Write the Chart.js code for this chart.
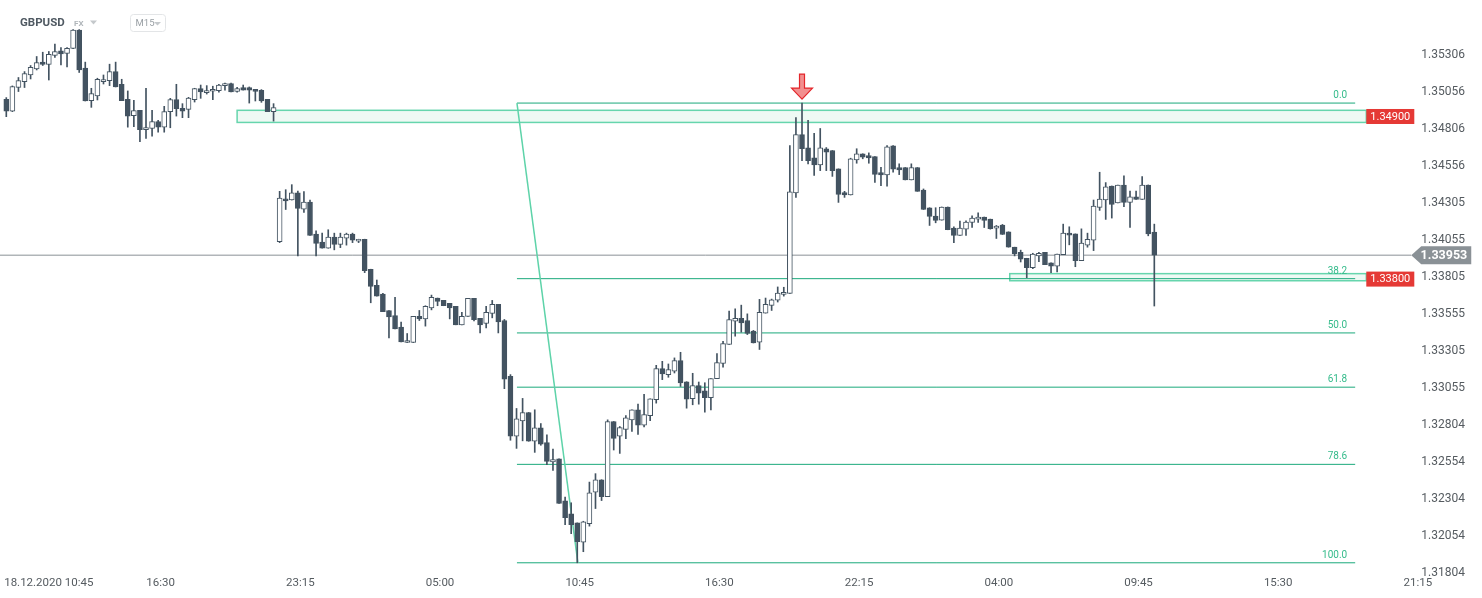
<!DOCTYPE html>
<html><head><meta charset="utf-8">
<script src="https://cdn.jsdelivr.net/npm/chart.js@4.4.0/dist/chart.umd.min.js"></script>
<style>html,body{margin:0;padding:0;background:#fff;overflow:hidden}canvas{display:block}</style>
</head><body>
<canvas id="c" width="1482" height="598"></canvas>
<script>
// ---- Candle data (GBPUSD, M15) ----
const opens = [1.35007,1.34928,1.35087,1.35127,1.35172,1.35213,1.35259,1.35243,1.35304,1.35335,
1.35318,1.35352,1.35476,1.35218,1.34998,1.35030,1.35127,1.35134,1.35195,1.35109,
1.35007,1.34897,1.34933,1.34802,1.34810,1.34856,1.34819,1.34924,1.35005,1.34946,
1.34939,1.35005,1.35080,1.35053,1.35062,1.35066,1.35100,1.35114,1.35060,1.35087,
1.35087,1.35075,1.35068,1.35007,1.34924,1.34045,1.34335,1.34326,1.34374,1.34265,
1.34313,1.34095,1.34041,1.34000,1.34075,1.34025,1.34068,1.34095,1.34048,1.34061,
1.33858,1.33749,1.33690,1.33579,1.33545,1.33466,1.33362,1.33362,1.33539,1.33522,
1.33597,1.33663,1.33647,1.33627,1.33607,1.33482,1.33539,1.33661,1.33525,1.33491,
1.33559,1.33620,1.33511,1.33133,1.32728,1.32832,1.32889,1.32694,1.32785,1.32685,
1.32554,1.32576,1.32291,1.32203,1.32142,1.32011,1.32137,1.32350,1.32434,1.32320,
1.32828,1.32728,1.32775,1.32839,1.32907,1.32803,1.32868,1.32975,1.33186,1.33145,
1.33169,1.33240,1.33097,1.32982,1.33070,1.33036,1.32989,1.33118,1.33220,1.33349,
1.33507,1.33525,1.33511,1.33439,1.33364,1.33561,1.33613,1.33649,1.33688,1.33695,
1.34374,1.34768,1.34679,1.34611,1.34564,1.34673,1.34661,1.34537,1.34376,1.34360,
1.34598,1.34639,1.34627,1.34620,1.34512,1.34496,1.34693,1.34546,1.34546,1.34462,
1.34546,1.34394,1.34274,1.34218,1.34190,1.34279,1.34136,1.34086,1.34129,1.34174,
1.34197,1.34211,1.34197,1.34136,1.34157,1.34111,1.34007,1.33973,1.33932,1.33869,
1.33948,1.33973,1.33901,1.33878,1.33957,1.34102,1.34097,1.33916,1.34021,1.34055,
1.34276,1.34326,1.34421,1.34306,1.34428,1.34310,1.34347,1.34330,1.34428,1.34109];
const highs = [1.35019,1.35098,1.35155,1.35195,1.35236,1.35297,1.35326,1.35331,1.35381,1.35358,
1.35358,1.35479,1.35479,1.35259,1.35082,1.35150,1.35172,1.35245,1.35259,1.35143,
1.35064,1.35001,1.34933,1.35082,1.34933,1.34865,1.34960,1.35014,1.35109,1.34978,
1.35021,1.35082,1.35104,1.35100,1.35096,1.35109,1.35118,1.35118,1.35089,1.35104,
1.35091,1.35075,1.35073,1.35007,1.34978,1.34385,1.34396,1.34430,1.34387,1.34383,
1.34326,1.34118,1.34102,1.34125,1.34102,1.34102,1.34102,1.34102,1.34061,1.34061,
1.33858,1.33785,1.33695,1.33579,1.33668,1.33500,1.33423,1.33539,1.33579,1.33611,
1.33683,1.33663,1.33647,1.33627,1.33607,1.33566,1.33661,1.33661,1.33525,1.33607,
1.33647,1.33620,1.33518,1.33145,1.32916,1.32984,1.32889,1.32907,1.32814,1.32737,
1.32642,1.32576,1.32316,1.32278,1.32142,1.32153,1.32418,1.32475,1.32434,1.32839,
1.32828,1.32794,1.32868,1.32907,1.32945,1.33011,1.32982,1.33208,1.33235,1.33217,
1.33258,1.33296,1.33097,1.33154,1.33095,1.33090,1.33118,1.33287,1.33371,1.33575,
1.33590,1.33615,1.33556,1.33444,1.33654,1.33663,1.33656,1.33738,1.33736,1.34695,
1.34883,1.34982,1.34865,1.34778,1.34810,1.34681,1.34661,1.34537,1.34385,1.34609,
1.34673,1.34639,1.34645,1.34620,1.34548,1.34695,1.34695,1.34571,1.34546,1.34571,
1.34546,1.34401,1.34274,1.34274,1.34279,1.34279,1.34145,1.34184,1.34186,1.34220,
1.34240,1.34211,1.34197,1.34154,1.34161,1.34111,1.34007,1.33987,1.33932,1.33966,
1.33973,1.33973,1.33901,1.33960,1.34163,1.34145,1.34097,1.34131,1.34102,1.34326,
1.34514,1.34444,1.34421,1.34428,1.34489,1.34387,1.34387,1.34484,1.34428,1.34163];
const lows = [1.34890,1.34924,1.35060,1.35087,1.35145,1.35206,1.35236,1.35138,1.35290,1.35240,
1.35227,1.35350,1.35189,1.34996,1.34953,1.35003,1.35111,1.35100,1.35091,1.34998,
1.34819,1.34822,1.34720,1.34742,1.34758,1.34785,1.34785,1.34815,1.34894,1.34883,
1.34883,1.34989,1.35014,1.35043,1.35005,1.35055,1.35070,1.35057,1.35055,1.35070,
1.34982,1.34996,1.34987,1.34924,1.34860,1.34038,1.34262,1.34326,1.33948,1.34242,
1.34086,1.33948,1.34000,1.34000,1.33989,1.34004,1.34021,1.34038,1.34038,1.33835,
1.33631,1.33676,1.33570,1.33393,1.33454,1.33366,1.33362,1.33362,1.33511,1.33473,
1.33583,1.33611,1.33611,1.33522,1.33482,1.33482,1.33539,1.33509,1.33427,1.33461,
1.33529,1.33427,1.33050,1.32701,1.32646,1.32697,1.32694,1.32619,1.32667,1.32536,
1.32497,1.32273,1.32130,1.32069,1.31872,1.31947,1.32120,1.32239,1.32293,1.32320,
1.32635,1.32612,1.32712,1.32760,1.32741,1.32792,1.32834,1.32952,1.33111,1.33127,
1.33156,1.33065,1.32918,1.32941,1.32945,1.32891,1.32907,1.33118,1.33196,1.33349,
1.33405,1.33432,1.33416,1.33359,1.33315,1.33561,1.33579,1.33636,1.33676,1.33695,
1.34344,1.34593,1.34571,1.34493,1.34525,1.34525,1.34486,1.34310,1.34344,1.34360,
1.34575,1.34605,1.34575,1.34446,1.34423,1.34419,1.34514,1.34498,1.34462,1.34462,
1.34385,1.34262,1.34154,1.34172,1.34190,1.34125,1.34038,1.34086,1.34086,1.34140,
1.34174,1.34140,1.34129,1.34066,1.34093,1.34007,1.33948,1.33907,1.33801,1.33862,
1.33909,1.33889,1.33835,1.33839,1.33957,1.34023,1.33875,1.33916,1.34007,1.33984,
1.34256,1.34195,1.34204,1.34306,1.34281,1.34140,1.34330,1.34330,1.34084,1.33609];
const closes = [1.34928,1.35094,1.35134,1.35182,1.35223,1.35256,1.35243,1.35311,1.35331,1.35315,
1.35352,1.35476,1.35206,1.34996,1.35046,1.35143,1.35141,1.35195,1.35091,1.34998,
1.34894,1.34931,1.34802,1.34817,1.34856,1.34819,1.34924,1.35005,1.34944,1.34928,
1.35016,1.35080,1.35057,1.35066,1.35075,1.35104,1.35114,1.35057,1.35080,1.35070,
1.35070,1.35060,1.34996,1.34924,1.34951,1.34340,1.34320,1.34374,1.34269,1.34313,
1.34086,1.34032,1.34000,1.34075,1.34025,1.34075,1.34095,1.34055,1.34061,1.33848,
1.33742,1.33676,1.33570,1.33536,1.33454,1.33366,1.33376,1.33539,1.33522,1.33607,
1.33668,1.33640,1.33611,1.33597,1.33482,1.33539,1.33661,1.33516,1.33482,1.33566,
1.33620,1.33502,1.33115,1.32728,1.32846,1.32889,1.32694,1.32785,1.32674,1.32558,
1.32570,1.32273,1.32178,1.32130,1.32015,1.32149,1.32346,1.32434,1.32320,1.32828,
1.32714,1.32787,1.32853,1.32907,1.32803,1.32875,1.32982,1.33186,1.33149,1.33179,
1.33240,1.33088,1.32979,1.33070,1.33020,1.32989,1.33118,1.33226,1.33355,1.33518,
1.33525,1.33495,1.33423,1.33359,1.33566,1.33620,1.33651,1.33697,1.33702,1.34381,
1.34768,1.34673,1.34593,1.34564,1.34679,1.34649,1.34525,1.34364,1.34360,1.34605,
1.34639,1.34616,1.34611,1.34500,1.34496,1.34686,1.34534,1.34530,1.34462,1.34546,
1.34385,1.34262,1.34215,1.34188,1.34279,1.34125,1.34086,1.34136,1.34177,1.34204,
1.34211,1.34188,1.34133,1.34150,1.34093,1.34007,1.33964,1.33926,1.33869,1.33960,
1.33966,1.33889,1.33878,1.33960,1.34102,1.34089,1.33916,1.34034,1.34061,1.34285,
1.34333,1.34415,1.34296,1.34428,1.34310,1.34347,1.34330,1.34428,1.34097,1.33953];

// ---- Axis ticks ----
const xTickPos = [7, 25.4, 48.4, 71.4, 94.4, 117.4, 140.4, 163.4, 186.4, 209.4, 232.4];
const xTickLabels = ['18.12.2020 10:45','16:30','23:15','05:00','10:45','16:30','22:15','04:00','09:45','15:30','21:15'];
const yTickVals = [1.35306,1.35056,1.34806,1.34556,1.34305,1.34055,1.33805,1.33555,1.33305,1.33055,1.32804,1.32554,1.32304,1.32054,1.31804];
const yTickLabels = ['1.35306','1.35056','1.34806','1.34556','1.34305','1.34055','1.33805','1.33555','1.33305','1.33055','1.32804','1.32554','1.32304','1.32054','1.31804'];

// ---- Drawings ----
const fibLevels = ['0.0','38.2','50.0','61.8','78.6','100.0'];
const fibPrices = [1.34982, 1.33794, 1.33427, 1.33060, 1.32538, 1.31872];
const fibStart = 84.07, fibEnd = 222.07, fibAnchorEnd = 94.1;
const zoneStart = [38.0, 165.2];
const zoneEnd = [223.9, 223.9];
const zoneHigh = [1.34933, 1.33828];
const zoneLow = [1.34851, 1.33780];
const zoneLabels = ['1.34900', '1.33800'];
const zoneLabelPrice = [1.34900, 1.33800];
const lastPrice = 1.33953;
const lastPriceEnd = 231.3;
const markerIndex = [131];

const DARK = '#435361';
const GREEN = '#1aa97b';
const xMin = -1.037, xMax = 240.15;
const yMin = 1.317962, yMax = 1.356251;

const idx = opens.map((_, i) => i);
const bodyData = idx.map(i => ({x: i, y: [opens[i], closes[i]]}));
const wickData = idx.map(i => ({x: i, y: [lows[i], highs[i]]}));
const bodyColors = idx.map(i => closes[i] >= opens[i] ? '#ffffff' : DARK);

const fibDatasets = fibPrices.map(p => ({
  type: 'line', data: [{x: fibStart, y: p}, {x: fibEnd, y: p}],
  borderColor: GREEN, borderWidth: 1, pointRadius: 0, order: 5
}));

const overlay = {
  id: 'overlay',
  beforeDatasetsDraw(chart) {
    const {ctx, scales: {x, y}} = chart;
    ctx.save();
    zoneStart.forEach((s, k) => {
      const x0 = x.getPixelForValue(s), x1 = x.getPixelForValue(zoneEnd[k]);
      const y0 = y.getPixelForValue(zoneHigh[k]), y1 = y.getPixelForValue(zoneLow[k]);
      ctx.fillStyle = '#eef9f4';
      ctx.fillRect(x0, y0, x1 - x0, y1 - y0);
      ctx.strokeStyle = '#66d5ad'; ctx.lineWidth = 1.5;
      ctx.strokeRect(x0, y0, x1 - x0, y1 - y0);
    });
    ctx.restore();
  },
  afterDatasetsDraw(chart) {
    const {ctx, scales: {x, y}} = chart;
    ctx.save();
    // fib labels
    ctx.font = '10px Roboto';
    ctx.fillStyle = '#35bb8b';
    ctx.textAlign = 'right'; ctx.textBaseline = 'alphabetic';
    const fx = x.getPixelForValue(fibEnd) - 8;
    fibPrices.forEach((p, k) => {
      ctx.fillText(fibLevels[k], fx, y.getPixelForValue(p) - 5);
    });
    // red zone labels
    zoneLabels.forEach((t, k) => {
      const x0 = x.getPixelForValue(zoneEnd[k]);
      const cy = y.getPixelForValue(zoneLabelPrice[k]) + 1.3;
      ctx.fillStyle = '#e53935';
      ctx.fillRect(x0, cy - 7.5, 48, 15);
      ctx.fillStyle = '#ffffff';
      ctx.font = '11px Roboto'; ctx.textAlign = 'center'; ctx.textBaseline = 'middle';
      ctx.fillText(t, x0 + 24, cy + 0.5);
    });
    // last price tag
    const ty = y.getPixelForValue(lastPrice);
    const tx = x.getPixelForValue(lastPriceEnd);
    ctx.fillStyle = '#8a9196';
    ctx.beginPath();
    ctx.moveTo(tx, ty);
    ctx.lineTo(tx + 10, ty - 9);
    ctx.lineTo(tx + 60, ty - 9);
    ctx.lineTo(tx + 60, ty + 9);
    ctx.lineTo(tx + 10, ty + 9);
    ctx.closePath(); ctx.fill();
    ctx.fillStyle = '#ffffff';
    ctx.font = 'bold 12.5px Roboto'; ctx.textAlign = 'right'; ctx.textBaseline = 'middle';
    ctx.fillText(lastPrice.toFixed(5), tx + 56, ty + 0.5);
    // red arrow marker
    markerIndex.forEach(i => {
      const ax = x.getPixelForValue(i);
      const tip = y.getPixelForValue(highs[i]) - 4;
      ctx.beginPath();
      ctx.moveTo(ax, tip);
      ctx.lineTo(ax - 10.5, tip - 11);
      ctx.lineTo(ax - 2.5, tip - 11);
      ctx.lineTo(ax - 2.5, tip - 25);
      ctx.lineTo(ax + 2.5, tip - 25);
      ctx.lineTo(ax + 2.5, tip - 11);
      ctx.lineTo(ax + 10.5, tip - 11);
      ctx.closePath();
      ctx.fillStyle = '#f28f8f'; ctx.fill();
      ctx.strokeStyle = '#e3262b'; ctx.lineWidth = 1.2; ctx.stroke();
    });
    // header
    ctx.textBaseline = 'middle'; ctx.textAlign = 'left';
    ctx.fillStyle = '#4f5962'; ctx.font = 'bold 11.5px Roboto';
    ctx.fillText('GBPUSD', 20, 23.5);
    ctx.fillStyle = '#b0b6ba'; ctx.font = 'bold 8px Roboto';
    ctx.fillText('FX', 74, 24);
    ctx.fillStyle = '#c4c8cb';
    ctx.beginPath(); ctx.moveTo(90, 20.5); ctx.lineTo(97, 20.5); ctx.lineTo(93.5, 24.5); ctx.closePath(); ctx.fill();
    ctx.strokeStyle = '#e3e5e7'; ctx.lineWidth = 1;
    ctx.beginPath(); ctx.roundRect(130.5, 14.5, 35, 17, 3); ctx.stroke();
    ctx.fillStyle = '#9aa0a5'; ctx.font = '9.5px Roboto';
    ctx.fillText('M15', 135.5, 24);
    ctx.fillStyle = '#c4c8cb';
    ctx.beginPath(); ctx.moveTo(154, 22); ctx.lineTo(161, 22); ctx.lineTo(157.5, 25.5); ctx.closePath(); ctx.fill();
    ctx.restore();
  }
};

new Chart(document.getElementById('c'), {
  type: 'bar',
  data: {
    datasets: [
      { data: bodyData, backgroundColor: bodyColors, borderColor: DARK, borderWidth: 1,
        borderSkipped: false, barThickness: 5, minBarLength: 1.5, grouped: false, order: 0 },
      { data: wickData, backgroundColor: DARK, borderWidth: 0,
        barThickness: 1, grouped: false, order: 1 },
      { type: 'line', data: [{x: xMin, y: lastPrice}, {x: lastPriceEnd, y: lastPrice}],
        borderColor: '#8a9196', borderWidth: 1, pointRadius: 0, order: 6 },
      { type: 'line', data: [{x: fibStart, y: fibPrices[0]}, {x: fibAnchorEnd, y: fibPrices[5]}],
        borderColor: '#5ed3a9', borderWidth: 1.5, pointRadius: 0, order: 4 },
      ...fibDatasets
    ]
  },
  options: {
    responsive: false, devicePixelRatio: 1, animation: false,
    layout: { padding: { top: 8, right: 17, bottom: 6.2, left: 0 } },
    plugins: { legend: { display: false }, tooltip: { enabled: false } },
    scales: {
      x: {
        type: 'linear', min: xMin, max: xMax, offset: false,
        grid: { display: false, drawTicks: false }, border: { display: false },
        afterBuildTicks: s => { s.ticks = xTickPos.map(v => ({value: v})); },
        ticks: { autoSkip: false, maxRotation: 0, padding: 2, color: '#555b60',
          font: { family: 'Roboto', size: 11.5 },
          callback: (v, i) => xTickLabels[i] }
      },
      y: {
        type: 'linear', position: 'right', min: yMin, max: yMax,
        grid: { display: false, drawTicks: false }, border: { display: false },
        afterBuildTicks: s => { s.ticks = yTickVals.map(v => ({value: v})); },
        ticks: { mirror: true, padding: 0, color: '#555b60',
          font: { family: 'Roboto', size: 12 },
          callback: (v, i) => yTickLabels[i] }
      }
    }
  },
  plugins: [overlay]
});
</script>
</body></html>
